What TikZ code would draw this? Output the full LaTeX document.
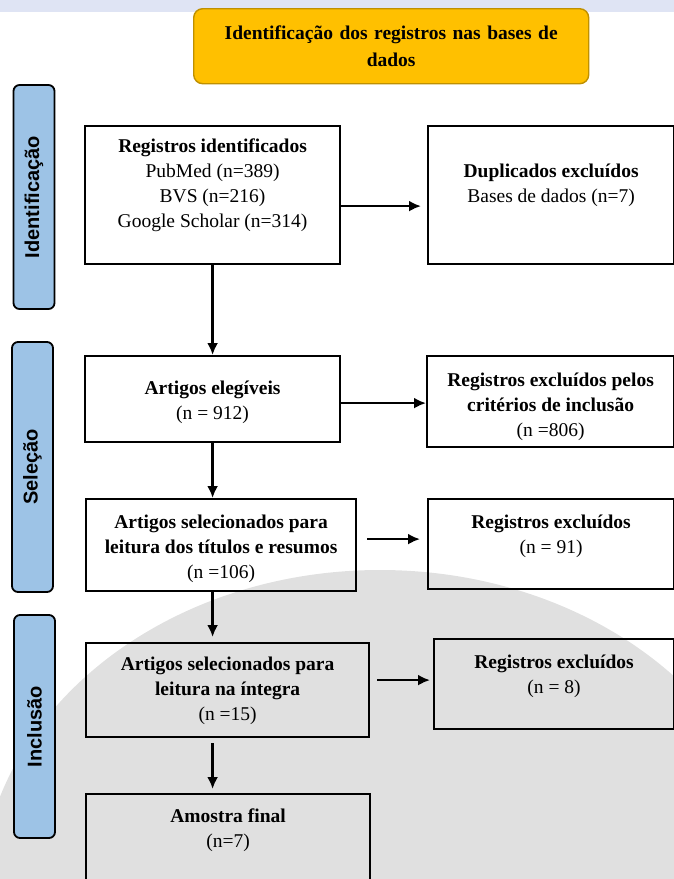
\documentclass[tikz,border=0pt]{standalone}
\usepackage{fontspec}
\setmainfont{Liberation Serif}
\setsansfont{Liberation Sans}
\usetikzlibrary{
  positioning,
  arrows.meta
}

\definecolor{headerfill}{HTML}{FFC000}
\definecolor{headerdraw}{HTML}{BF9000}
\definecolor{phasefill}{HTML}{9DC3E6}
\definecolor{bandblue}{HTML}{DFE4F4}

\begin{document}
\begin{tikzpicture}[
  x=1pt, y=-1pt,
  every node/.style={font=\fontsize{19.5}{25}\selectfont},
  box/.style={rectangle, draw=black, line width=2.2pt, anchor=north west, inner sep=0pt},
  txt/.style={align=center, inner sep=0pt},
  header/.style={rectangle, rounded corners=9pt, draw=headerdraw, line width=1.4pt, fill=headerfill, anchor=north west, align=center, text width=370pt, font=\bfseries\fontsize{19.5}{27}\selectfont},
  phase/.style={rectangle, rounded corners=6pt, draw=black, line width=1.8pt, fill=phasefill, rotate=90, minimum height=41pt, font=\sffamily\bfseries\fontsize{20}{22}\selectfont},
  arrow/.style={line width=2.4pt, -{Latex[length=12pt, width=11pt]}}
]
\useasboundingbox (0,0) rectangle (674,879);

% background
\fill[bandblue] (0,0) rectangle (674,12);
\fill[black!12] (380,900) ellipse [x radius=400pt, y radius=330pt];

% header
\node[header, minimum width=395pt, minimum height=75pt] (head) at (193,8) {Identificação dos registros nas bases de\\ dados};

% phases
\node[phase, minimum width=224pt] (ident) at (34,197) {Identificação};
\node[phase, minimum width=250pt] (selec) at (32.5,467) {Seleção};
\node[phase, minimum width=223pt] (inclu) at (34.5,726.5) {Inclusão};

% boxes
\node[box, minimum width=255pt, minimum height=138pt] (reg) at (84,125) {};
\node[box, minimum width=246pt, minimum height=138pt] (dup) at (427,125) {};
\node[box, minimum width=255pt, minimum height=86pt] (eleg) at (84,355) {};
\node[box, minimum width=247pt, minimum height=91pt] (exca) at (426,355) {};
\node[box, minimum width=270pt, minimum height=92pt] (sel) at (85,498) {};
\node[box, minimum width=246pt, minimum height=90pt] (excb) at (427,498) {};
\node[box, minimum width=283pt, minimum height=94pt] (integ) at (85,642) {};
\node[box, minimum width=240pt, minimum height=90pt] (excc) at (433,638) {};
\node[box, minimum width=284pt, minimum height=100pt] (final) at (85,793) {};

% texts
\node[txt, below=14pt of reg.north] (regtxt) {\textbf{Registros identificados}\\ PubMed (n=389)\\ BVS (n=216)\\ Google Scholar (n=314)};
\node[txt, below=39pt of dup.north] (duptxt) {\textbf{Duplicados excluídos}\\ Bases de dados (n=7)};
\node[txt, below=26pt of eleg.north] (elegtxt) {\textbf{Artigos elegíveis}\\ (n = 912)};
\node[txt, below=18pt of exca.north] (excatxt) {\textbf{Registros excluídos pelos}\\ \textbf{critérios de inclusão}\\ (n =806)};
\node[txt, below=17pt of sel.north] (seltxt) {\textbf{Artigos selecionados para}\\ \textbf{leitura dos títulos e resumos}\\ (n =106)};
\node[txt, below=17pt of excb.north] (excbtxt) {\textbf{Registros excluídos}\\ (n = 91)};
\node[txt, below=15pt of integ.north] (integtxt) {\textbf{Artigos selecionados para}\\ \textbf{leitura na íntegra}\\ (n =15)};
\node[txt, below=17pt of excc.north] (excctxt) {\textbf{Registros excluídos}\\ (n = 8)};
\node[txt, below=16pt of final.north] (finaltxt) {\textbf{Amostra final}\\ (n=7)};

% Arrows
\draw[arrow] (reg) -- (eleg);
\draw[arrow] (eleg) -- (eleg |- sel.north);
\draw[arrow, shorten >=5pt] (sel.south -| eleg.south) -- (integ.north -| eleg.south);
\draw[arrow, shorten <=5pt, shorten >=4pt] (integ.south -| eleg.south) -- (final.north -| eleg.south);

\draw[arrow, shorten >=6pt] ([yshift=-11pt]reg.east) -- ([yshift=-11pt]reg.east -| dup.west);
\draw[arrow] ([yshift=-4pt]eleg.east) -- ([yshift=-4pt]eleg.east -| exca.west);
\draw[arrow, shorten <=10pt, shorten >=7pt] ([yshift=6pt]sel.east) -- ([yshift=6pt]sel.east -| excb.west);
\draw[arrow, shorten <=7pt, shorten >=3pt] ([yshift=10pt]integ.east) -- ([yshift=10pt]integ.east -| excc.west);

\end{tikzpicture}
\end{document}
